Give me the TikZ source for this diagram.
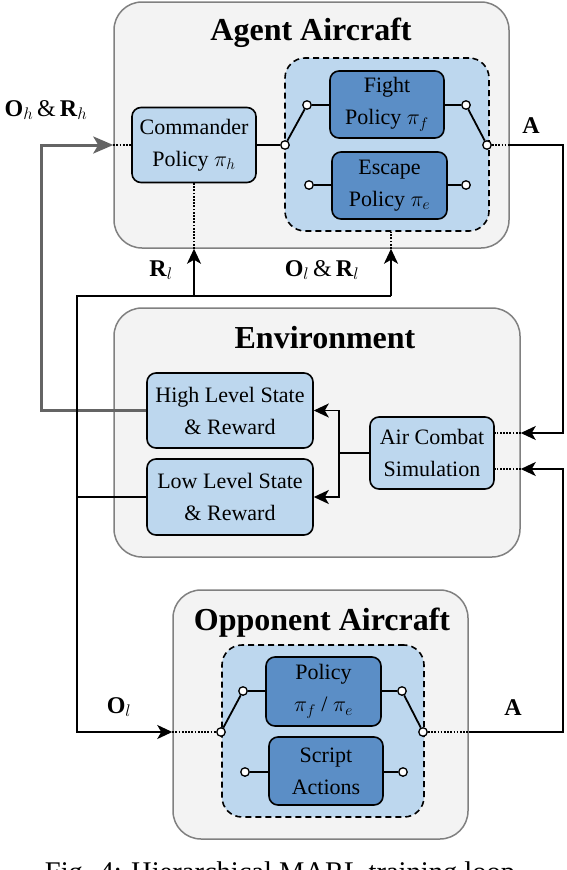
\RequirePackage{fix-cm}
\documentclass[tikz,border=0pt]{standalone}
\usepackage{fontspec}
\setmainfont{Liberation Serif}
\usetikzlibrary{arrows.meta}
\definecolor{boxgray}{RGB}{243,243,243}
\definecolor{bordgray}{RGB}{128,128,128}
\definecolor{lblue}{RGB}{189,215,238}
\definecolor{dblue}{RGB}{91,142,198}
\definecolor{thickgray}{RGB}{100,100,100}
\begin{document}
\begin{tikzpicture}[x=1pt,y=-1pt,
  outer/.style={draw=bordgray, line width=1.5pt, fill=boxgray, rounded corners=28pt, inner sep=0pt},
  dregion/.style={draw=black, line width=1.6pt, dash pattern=on 6pt off 4pt, fill=lblue, rounded corners=20pt, inner sep=0pt},
  lbox/.style={draw=black, line width=1.6pt, fill=lblue, rounded corners=9pt, align=center, inner sep=0pt, font=\fontsize{22}{32}\selectfont},
  dbox/.style={lbox, fill=dblue},
  sw/.style={circle, draw=black, fill=white, line width=1.3pt, minimum size=8.5pt, inner sep=0pt},
  conn/.style={line width=1.8pt},
  gconn/.style={line width=3pt, draw=thickgray},
  dot/.style={line width=1.7pt, dash pattern=on 1.7pt off 1.5pt},
  arr/.style={-{Stealth[length=15pt,width=14pt,inset=4pt]}},
  garr/.style={-{Stealth[length=20pt,width=17pt,inset=5pt]}},
  title/.style={font=\fontsize{32}{36}\selectfont\bfseries, anchor=base},
  lab/.style={font=\fontsize{24}{28}\selectfont, anchor=base}]
\useasboundingbox (0,0) rectangle (566,870);

% ---- Agent aircraft
\node[outer, minimum width=395pt, minimum height=246pt] (agent) at (311.5,125) {};
\node[title] (agentT) at (311,40) {Agent Aircraft};
\node[dregion, minimum width=204pt, minimum height=173pt] (adash) at (387,144.5) {};
\node[lbox, minimum width=124pt, minimum height=75pt] (cmd) at (194,145) {Commander\\Policy $\pi_h$};
\node[dbox, minimum width=114pt, minimum height=67pt] (fight) at (387,104.5) {Fight\\Policy $\pi_f$};
\node[dbox, minimum width=115pt, minimum height=67pt] (escape) at (389.5,185.5) {Escape\\Policy $\pi_e$};

% ---- Environment
\node[outer, minimum width=406pt, minimum height=249pt] (env) at (317,432.5) {};
\node[title] (envT) at (325,348) {Environment};
\node[lbox, minimum width=166pt, minimum height=75pt] (high) at (230,410.5) {High Level State\\\& Reward};
\node[lbox, minimum width=166pt, minimum height=76pt] (low) at (230,497) {Low Level State\\\& Reward};
\node[lbox, minimum width=124pt, minimum height=72pt] (sim) at (432,453) {Air Combat\\Simulation};

% ---- Opponent aircraft
\node[outer, minimum width=295pt, minimum height=249pt] (opp) at (320.5,714.5) {};
\node[title] (oppT) at (322,630) {Opponent Aircraft};
\node[dregion, minimum width=202pt, minimum height=172pt] (odash) at (323,731) {};
\node[dbox, minimum width=115pt, minimum height=69pt] (pol) at (323.5,691.5) {Policy\\$\pi_f$ / $\pi_e$};
\node[dbox, minimum width=114pt, minimum height=68pt] (script) at (326,771) {Script\\Actions};

% ---- switch contacts
\node[sw] (apl) at (285,145) {};
\node[sw] (atl) at (307,105) {};
\node[sw] (atr) at (466,105) {};
\node[sw] (apr) at (487,145) {};
\node[sw] (ael) at (309,185) {};
\node[sw] (aer) at (466,185) {};
\node[sw] (opl) at (221,732) {};
\node[sw] (otl) at (243,691) {};
\node[sw] (otr) at (402,691) {};
\node[sw] (opr) at (423,732) {};
\node[sw] (osl) at (245,772) {};
\node[sw] (osr) at (403,772) {};

% ---- switch wiring
\draw[conn] (cmd.east) -- (apl);
\draw[conn] (apl) -- (atl);
\draw[conn] (atl) -- (atl -| fight.west);
\draw[conn] (fight.east |- atr) -- (atr);
\draw[conn] (atr) -- (apr);
\draw[conn] (ael) -- (ael -| escape.west);
\draw[conn] (escape.east |- aer) -- (aer);
\draw[conn] (opl) -- (otl);
\draw[conn] (otl) -- (otl -| pol.west);
\draw[conn] (pol.east |- otr) -- (otr);
\draw[conn] (otr) -- (opr);
\draw[conn] (osl) -- (osl -| script.west);
\draw[conn] (script.east |- osr) -- (osr);

% ---- agent action A
\coordinate (aR) at (563,145);
\coordinate (aS) at (563,433);
\draw[dot] (apr) -- (apr -| agent.east);
\draw[conn,arr] (apr -| agent.east) -- (aR) -- (aS) -- (aS -| env.east);
\draw[dot] (aS -| env.east) -- (aS -| sim.east);

% ---- opponent action A
\coordinate (oR) at (563,732);
\coordinate (oS) at (563,469);
\draw[dot] (opr) -- (opr -| opp.east);
\draw[conn,arr] (opr -| opp.east) -- (oR) -- (oS) -- (oS -| env.east);
\draw[dot] (oS -| env.east) -- (oS -| sim.east);

% ---- high level loop (thick gray)
\coordinate (g1) at (41,410.5);
\coordinate (g2) at (41,145);
\draw[gconn,garr] (high.west) -- (g1) -- (g2) -- (g2 -| agent.west);
\draw[dot] (g2 -| agent.west) -- (cmd.west);

% ---- low level tree
\coordinate (t1) at (77,296);
\coordinate (t2) at (391,296);
\coordinate (t3) at (194,296);
\coordinate (t4) at (77,732);
\draw[conn,arr] (t2) -- (t1) -- (t4) -- (t4 -| opp.west);
\draw[dot] (t4 -| opp.west) -- (opl);
\draw[conn,arr] (t3) -- (t3 |- agent.south);
\draw[dot] (t3 |- agent.south) -- (cmd.south);
\draw[conn,arr] (t2) -- (t2 |- agent.south);
\draw[dot] (t2 |- agent.south) -- (t2 |- adash.south);
\draw[conn] (low.west) -- (low.west -| t1);

% ---- simulation branch
\coordinate (b) at (339,453);
\draw[conn] (sim.west) -- (b);
\draw[conn,arr] (b) |- (high.east);
\draw[conn,arr] (b) |- (low.east);

% ---- labels
\node[lab] (lOh) at (46,116) {\textbf{O}$_h$\,\&\,\textbf{R}$_h$};
\node[lab] (lA1) at (531,133) {\textbf{A}};
\node[lab] (lRl) at (161,276) {\textbf{R}$_l$};
\node[lab] (lOR) at (322,276) {\textbf{O}$_l$\,\&\,\textbf{R}$_l$};
\node[lab] (lOl) at (119,713) {\textbf{O}$_l$};
\node[lab] (lA2) at (513,715) {\textbf{A}};

% ---- caption (cut off by the frame, as in the reference)
\node[font=\fontsize{28.5}{30}\selectfont, anchor=base] (cap) at (280,881) {Fig. 4: Hierarchical MARL training loop};
\end{tikzpicture}
\end{document}
